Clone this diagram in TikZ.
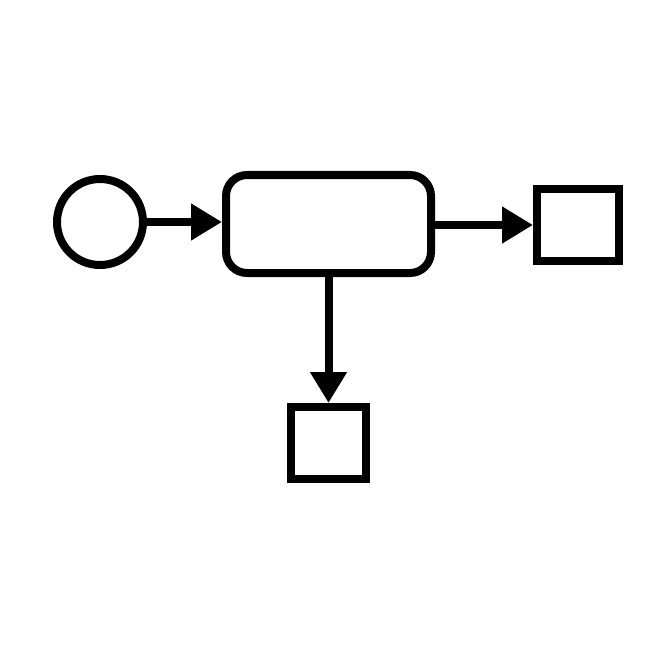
\documentclass[tikz,border=0pt]{standalone}
\usetikzlibrary{arrows.meta}
\begin{document}
\begin{tikzpicture}[x=1pt,y=-1pt,
  shp/.style={draw=black,line width=8pt,fill=white,inner sep=0pt},
  conn/.style={line width=8pt,-{Triangle[length=31pt,width=35pt]}}]
\useasboundingbox (0,0) rectangle (655,655);
\node[shp,circle,minimum size=86pt] (c) at (100,222) {};
\node[shp,rounded corners=21pt,minimum width=205pt,minimum height=98pt] (r) at (328.5,224) {};
\node[shp,minimum width=82pt,minimum height=72pt] (s1) at (578,225) {};
\node[shp,minimum width=75pt,minimum height=72pt] (s2) at (328.5,443) {};
\draw[conn] (c.east) -- (c.east -| r.west);
\draw[conn] (r.east |- s1.west) -- (s1.west);
\draw[conn] (r.south) -- (s2.north);
\end{tikzpicture}
\end{document}
